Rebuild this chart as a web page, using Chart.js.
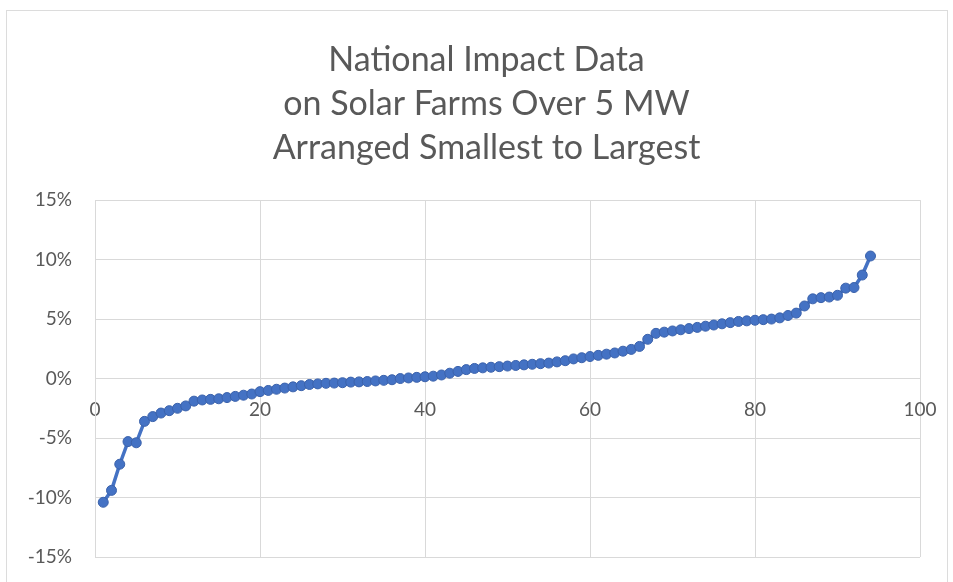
<!DOCTYPE html>
<html>
<head>
<meta charset="utf-8">
<script src="https://cdn.jsdelivr.net/npm/chart.js@4/dist/chart.umd.min.js"></script>
<style>
  html, body { margin: 0; padding: 0; background: #fff; overflow: hidden; }
  #wrap { position: relative; width: 953px; height: 582px; }
  #frame { position: absolute; left: 6px; top: 10px; width: 942px; height: 590px; border: 1px solid #dcdcdc; box-sizing: border-box; }
  #chart { position: absolute; left: 0; top: 0; }
</style>
</head>
<body>
<div id="wrap">
  <div id="frame"></div>
  <canvas id="chart" width="953" height="582"></canvas>
</div>
<script>
const titleLines = ['National Impact Data', 'on Solar Farms Over 5 MW', 'Arranged Smallest to Largest'];

// rank of each farm (1 = smallest impact)
const farmRank = [
   1,  2,  3,  4,  5,  6,  7,  8,  9, 10, 11, 12, 13, 14, 15, 16, 17, 18, 19, 20,
  21, 22, 23, 24, 25, 26, 27, 28, 29, 30, 31, 32, 33, 34, 35, 36, 37, 38, 39, 40,
  41, 42, 43, 44, 45, 46, 47, 48, 49, 50, 51, 52, 53, 54, 55, 56, 57, 58, 59, 60,
  61, 62, 63, 64, 65, 66, 67, 68, 69, 70, 71, 72, 73, 74, 75, 76, 77, 78, 79, 80,
  81, 82, 83, 84, 85, 86, 87, 88, 89, 90, 91, 92, 93, 94
];

// impact on value, percent
const impactPct = [
  -10.4, -9.4, -7.2, -5.3, -5.4, -3.6, -3.2, -2.9, -2.7, -2.5,
  -2.3, -1.9, -1.8, -1.75, -1.7, -1.6, -1.5, -1.4, -1.3, -1.1,
  -1.0, -0.9, -0.8, -0.7, -0.6, -0.5, -0.45, -0.4, -0.38, -0.35,
  -0.3, -0.28, -0.25, -0.2, -0.15, -0.1, 0.0, 0.05, 0.1, 0.15,
  0.2, 0.3, 0.45, 0.6, 0.75, 0.85, 0.9, 0.95, 1.0, 1.05,
  1.1, 1.15, 1.2, 1.25, 1.3, 1.4, 1.5, 1.65, 1.75, 1.85,
  1.95, 2.05, 2.15, 2.3, 2.45, 2.7, 3.3, 3.8, 3.9, 4.0,
  4.1, 4.2, 4.3, 4.4, 4.5, 4.6, 4.7, 4.8, 4.85, 4.9,
  4.95, 5.0, 5.1, 5.3, 5.5, 6.1, 6.7, 6.8, 6.85, 7.0,
  7.6, 7.65, 8.7, 10.3
];

const xTicks = [0, 20, 40, 60, 80, 100];
const yTicks = [-15, -10, -5, 0, 5, 10, 15];

const gridColor = '#d9d9d9';
const textColor = '#595959';
const fontFamily = 'Lato, "Open Sans", sans-serif';

new Chart(document.getElementById('chart'), {
    type: 'scatter',
    data: {
        datasets: [{
            data: farmRank.map((r, i) => ({ x: r, y: impactPct[i] })),
            showLine: true,
            borderColor: '#4472C4',
            borderWidth: 3.5,
            pointRadius: 5,
            pointBackgroundColor: '#4472C4',
            pointBorderColor: '#3b62ab',
            pointBorderWidth: 1
        }]
    },
    options: {
        responsive: false,
        animation: false,
        layout: { padding: { left: 25, right: 5, top: 0, bottom: 25 } },
        plugins: {
            legend: { display: false },
            tooltip: { enabled: false },
            title: {
                display: true,
                text: titleLines,
                color: textColor,
                font: { family: fontFamily, size: 34, weight: 'normal', lineHeight: 1.295 },
                padding: { top: 38, bottom: 30 }
            }
        },
        scales: {
            x: {
                type: 'linear',
                position: { y: 0 },
                min: 0,
                max: 100,
                afterBuildTicks: s => { s.ticks = xTicks.map(v => ({ value: v })); },
                afterFit: s => { s.height = 0; },
                grid: { color: gridColor, tickLength: 20, tickColor: 'rgba(0,0,0,0)' },
                border: { color: gridColor },
                ticks: { color: textColor, padding: 0, font: { family: fontFamily, size: 19 } }
            },
            y: {
                min: -15,
                max: 15,
                afterBuildTicks: s => { s.ticks = yTicks.map(v => ({ value: v })); },
                afterFit: s => { s.width = 70; },
                grid: { color: gridColor, tickLength: 23, tickColor: 'rgba(0,0,0,0)' },
                border: { color: gridColor },
                ticks: {
                    color: textColor,
                    padding: 0,
                    font: { family: fontFamily, size: 19 },
                    callback: v => v + '%'
                }
            },
            // empty right-hand spacer so the title centres like the original
            spacer: {
                axis: 'y',
                position: 'right',
                afterFit: s => { s.width = 28; },
                grid: { display: false, drawTicks: false },
                border: { display: false },
                ticks: { display: false }
            }
        }
    }
});
</script>
</body>
</html>
